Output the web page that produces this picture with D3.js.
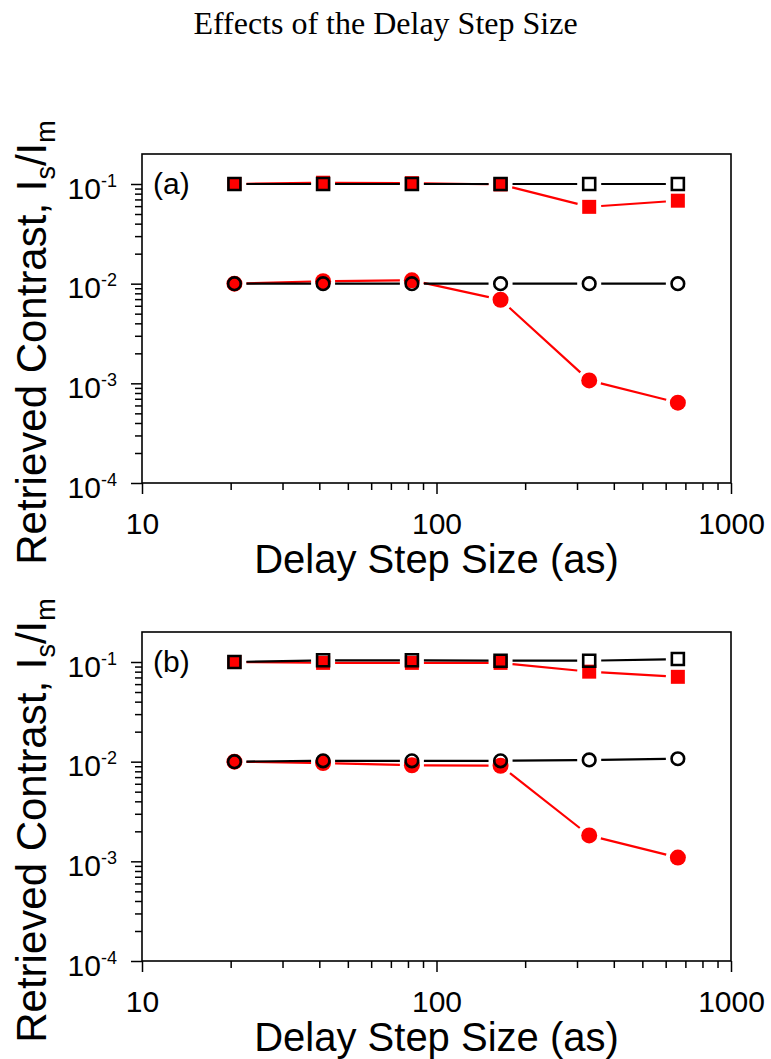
<!DOCTYPE html>
<html>
<head>
<meta charset="utf-8">
<script src="https://cdn.jsdelivr.net/npm/d3@7"></script>
<style>
  body { margin: 0; background: #fff; }
  svg { display: block; }
</style>
</head>
<body>
<div id="chart"></div>
<script>
  // delay step sizes (as), shared by both panels
  const stepSizes = [20.6, 41.2, 82.5, 165, 330, 660]

  // panel (a)
  const aOpenSquares = [0.1, 0.1, 0.1, 0.1, 0.1, 0.1]
  const aRedSquares = [0.1, 0.103, 0.102, 0.099, 0.059, 0.068]
  const aOpenCircles = [0.01, 0.01, 0.01, 0.01, 0.01, 0.01]
  const aRedCircles = [0.01, 0.0106, 0.0108, 0.0069, 0.00107, 0.00064]

  // panel (b)
  const bOpenSquares = [0.1, 0.104, 0.104, 0.103, 0.103, 0.107]
  const bRedSquares = [0.1, 0.098, 0.098, 0.098, 0.08, 0.071]
  const bOpenCircles = [0.01, 0.0102, 0.0102, 0.0102, 0.0104, 0.0107]
  const bRedCircles = [0.01, 0.0097, 0.0092, 0.0091, 0.00182, 0.00109]

  const xMajor = [10, 100, 1000]
  const yMajor = [1e-4, 1e-3, 1e-2, 1e-1]
  const yExponents = ["-4", "-3", "-2", "-1"]

  const width = 771
  const height = 1059
  const red = "#ff0000"

  const svg = d3.select("#chart")
    .append("svg")
    .attr("width", width)
    .attr("height", height)

  svg.append("rect").attr("width", width).attr("height", height).attr("fill", "#fff")

  svg.append("text")
    .attr("x", 385.5)
    .attr("y", 34)
    .attr("text-anchor", "middle")
    .attr("font-family", "'Liberation Serif', 'Times New Roman', serif")
    .attr("font-size", 32)
    .text("Effects of the Delay Step Size")

  function minorTicks(lo, hi) {
    const out = []
    for (let p = Math.floor(Math.log10(lo)); p < Math.log10(hi); p++) {
      for (let k = 2; k <= 9; k++) {
        const v = k * Math.pow(10, p)
        if (v > lo && v < hi) out.push(v)
      }
    }
    return out
  }

  function drawPanel(top, label, series) {
    const left = 142, right = 731, plotH = 329
    const bottom = top + plotH

    const x = d3.scaleLog().domain([10, 1000]).range([left, right])
    const y = d3.scaleLog().domain([1e-4, 0.2]).range([bottom, top])

    const g = svg.append("g")
      .attr("font-family", "'Liberation Sans', Arial, sans-serif")

    // x axis
    const xAxis = g.append("g")
      .attr("transform", `translate(0,${bottom})`)
      .call(d3.axisBottom(x).tickValues(xMajor).tickSize(11).tickSizeOuter(0)
        .tickPadding(19).tickFormat(d3.format("d")))
    xAxis.selectAll("text").attr("font-size", 30).attr("fill", "#000").attr("font-family", null)
    xAxis.attr("font-family", null).attr("font-size", null)

    g.append("g")
      .attr("transform", `translate(0,${bottom})`)
      .call(d3.axisBottom(x).tickValues(minorTicks(10, 1000)).tickSize(7).tickSizeOuter(0).tickFormat(""))

    // y axis
    const yAxis = g.append("g")
      .attr("transform", `translate(${left},0)`)
      .call(d3.axisLeft(y).tickValues(yMajor).tickSize(11).tickSizeOuter(0)
        .tickPadding(14).tickFormat(() => ""))
    yAxis.attr("font-family", null).attr("font-size", null)
    yAxis.selectAll("text")
      .attr("fill", "#000")
      .attr("dy", "0.47em")
      .attr("font-size", 30)
      .each(function (d, i) {
        const t = d3.select(this)
        t.append("tspan").text("10")
        t.append("tspan").attr("font-size", 18).attr("dy", -12).text(yExponents[i])
      })

    g.append("g")
      .attr("transform", `translate(${left},0)`)
      .call(d3.axisLeft(y).tickValues(minorTicks(1e-4, 0.1)).tickSize(7).tickSizeOuter(0).tickFormat(""))

    g.selectAll(".domain").remove()
    g.selectAll(".tick line").attr("stroke", "#000").attr("stroke-width", 1.5)

    // frame
    g.append("rect")
      .attr("x", left).attr("y", top)
      .attr("width", right - left).attr("height", plotH)
      .attr("fill", "none").attr("stroke", "#000").attr("stroke-width", 1.6)

    // panel letter
    g.append("text")
      .attr("x", left + 11).attr("y", top + 40)
      .attr("font-size", 30)
      .text(label)

    // axis titles
    g.append("text")
      .attr("x", (left + right) / 2).attr("y", bottom + 90)
      .attr("text-anchor", "middle")
      .attr("font-size", 40)
      .text("Delay Step Size (as)")

    const yt = g.append("text")
      .attr("transform", `translate(46,${(top + bottom) / 2 + 24}) rotate(-90)`)
      .attr("text-anchor", "middle")
      .attr("font-size", 42)
    yt.append("tspan").text("Retrieved Contrast, I")
    yt.append("tspan").attr("font-size", 27).attr("dy", 9).text("s")
    yt.append("tspan").attr("dy", -9).text("/I")
    yt.append("tspan").attr("font-size", 27).attr("dy", 9).text("m")

    // series: black open markers drawn over red filled ones
    const gap = 12
    function segments(values) {
      const pts = values.map((v, i) => [x(stepSizes[i]), y(v)])
      let d = ""
      for (let i = 0; i < pts.length - 1; i++) {
        const [x0, y0] = pts[i], [x1, y1] = pts[i + 1]
        const len = Math.hypot(x1 - x0, y1 - y0)
        if (len <= 2 * gap) continue
        const ux = (x1 - x0) / len, uy = (y1 - y0) / len
        d += `M${x0 + ux * gap},${y0 + uy * gap}L${x1 - ux * gap},${y1 - uy * gap}`
      }
      return d
    }

    const symSquareRed = d3.symbol().type(d3.symbolSquare).size(14 * 14)
    const symSquareOpen = d3.symbol().type(d3.symbolSquare).size(12 * 12)
    const symCircleRed = d3.symbol().type(d3.symbolCircle).size(Math.PI * 8 * 8)
    const symCircleOpen = d3.symbol().type(d3.symbolCircle).size(Math.PI * 6.3 * 6.3)

    const drawOrder = [
      { values: series.redSquares, color: red, filled: true, sym: symSquareRed },
      { values: series.redCircles, color: red, filled: true, sym: symCircleRed },
      { values: series.openSquares, color: "#000", filled: false, sym: symSquareOpen },
      { values: series.openCircles, color: "#000", filled: false, sym: symCircleOpen }
    ]

    drawOrder.forEach(s => {
      g.append("path")
        .attr("d", segments(s.values))
        .attr("fill", "none")
        .attr("stroke", s.color)
        .attr("stroke-width", 2.2)
    })

    drawOrder.forEach(s => {
      g.append("g")
        .selectAll("path")
        .data(s.values)
        .join("path")
        .attr("transform", (d, i) => `translate(${x(stepSizes[i])},${y(d)})`)
        .attr("d", s.sym)
        .attr("fill", s.filled ? s.color : "none")
        .attr("stroke", s.filled ? "none" : s.color)
        .attr("stroke-width", s.filled ? null : 2.6)
    })
  }

  drawPanel(154, "(a)", {
    openSquares: aOpenSquares, redSquares: aRedSquares,
    openCircles: aOpenCircles, redCircles: aRedCircles
  })
  drawPanel(632, "(b)", {
    openSquares: bOpenSquares, redSquares: bRedSquares,
    openCircles: bOpenCircles, redCircles: bRedCircles
  })
</script>
</body>
</html>
